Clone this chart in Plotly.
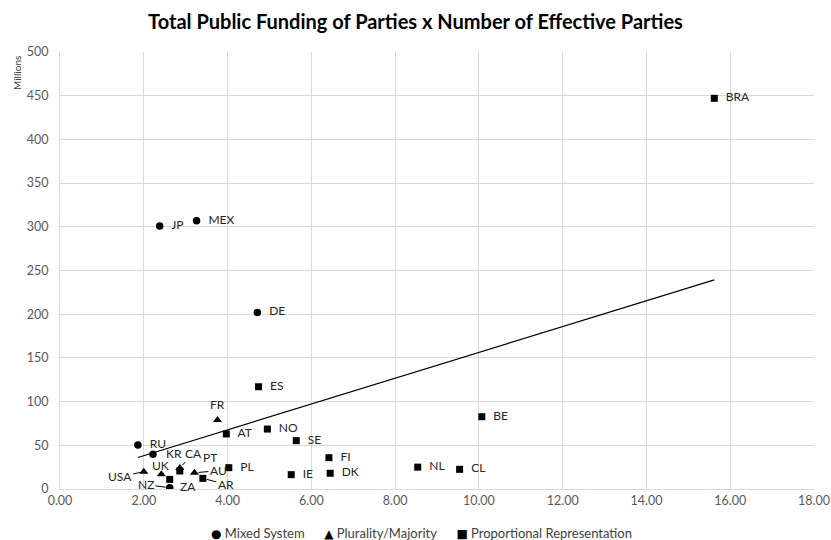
import numpy as np
import plotly.graph_objects as go

# ---- data ----
mixed_labels = ["RU", "KR", "JP", "MEX", "DE", "NZ"]
mixed_x = [1.86, 2.22, 2.38, 3.26, 4.71, 2.62]
mixed_y = [50.3, 39.7, 301, 307, 202, 1.5]

plur_labels = ["USA", "UK", "FR", "CA", "AU"]
plur_x = [2.00, 2.42, 3.76, 2.86, 3.21]
plur_y = [19.8, 16.8, 79, 24, 18.6]

pr_labels = ["BRA", "ES", "AT", "NO", "SE", "FI", "DK", "IE", "PL", "BE", "NL", "CL", "PT", "AR", "ZA"]
pr_x = [15.62, 4.74, 3.97, 4.95, 5.64, 6.42, 6.45, 5.52, 4.03, 10.07, 8.54, 9.54, 2.86, 3.41, 2.62]
pr_y = [447, 117, 63, 68.6, 55.3, 35.8, 18, 16.4, 24.4, 82.7, 25, 22.5, 20.6, 12.2, 11]

x_ticks = [0, 2, 4, 6, 8, 10, 12, 14, 16, 18]
y_ticks = [0, 50, 100, 150, 200, 250, 300, 350, 400, 450, 500]

series_names = ["Mixed System", "Plurality/Majority", "Proportional Representation"]
series_glyphs = ["\u25CF", "\u25B2", "\u25A0"]

# labels placed with offsets / leader lines (pixel offsets)
special = {
    "KR": (21, -1, False),
    "USA": (-24, 5, True),
    "UK": (-1, -9, False),
    "FR": (0, -15, False),
    "CA": (14, -15, True),
    "PT": (30, -14, False),
    "AU": (24, -2, True),
    "AR": (23, 6, True),
    "NZ": (-24, -3, True),
    "ZA": (18, 7, False),
}

FONT = "Lato, Carlito, Calibri, sans-serif"
LBL = dict(family=FONT, size=12, color="#262626")
fig = go.Figure()

# trendline (linear OLS over all points)
all_x = np.array(mixed_x + plur_x + pr_x)
all_y = np.array(mixed_y + plur_y + pr_y)
slope, intercept = np.polyfit(all_x, all_y, 1)
tx = np.array([all_x.min(), all_x.max()])
fig.add_trace(go.Scatter(x=tx, y=slope * tx + intercept, mode="lines",
                         line=dict(color="black", width=1.2), showlegend=False,
                         hoverinfo="skip"))

series = [
    (series_names[0], mixed_labels, mixed_x, mixed_y, "circle", 7.5),
    (series_names[1], plur_labels, plur_x, plur_y, "triangle-up", 8),
    (series_names[2], pr_labels, pr_x, pr_y, "square", 7),
]
for name, labels, xs, ys, sym, size in series:
    txt = ["" if l in special else "\u00a0\u00a0" + l for l in labels]
    fig.add_trace(go.Scatter(
        x=xs, y=ys, mode="markers+text", name=name, text=txt,
        textposition="middle right", textfont=LBL,
        marker=dict(symbol=sym, size=size, color="black"),
    ))
    for l, xv, yv in zip(labels, xs, ys):
        if l in special:
            ax, ay, arrow = special[l]
            fig.add_annotation(x=xv, y=yv, text=l, showarrow=True,
                               arrowhead=0, arrowwidth=1,
                               arrowcolor="black" if arrow else "rgba(0,0,0,0)",
                               ax=ax, ay=ay, standoff=4, font=LBL)

fig.update_layout(
    width=831, height=540,
    margin=dict(l=60, r=17, t=52, b=51, autoexpand=False),
    paper_bgcolor="white", plot_bgcolor="white",
    title=dict(text="<b>Total Public Funding of Parties x Number of Effective Parties</b>",
               x=0.5, xanchor="center", y=0.959, yanchor="middle",
               font=dict(family=FONT, size=20, color="black")),
    font=dict(family=FONT, size=12, color="#595959"),
    showlegend=False,
)
fig.update_xaxes(range=[0, 18], tickvals=x_ticks, automargin=False,
                 ticktext=[f"{v:.2f}" for v in x_ticks],
                 showgrid=True, gridcolor="#d9d9d9", gridwidth=1,
                 zeroline=False, showline=True, linecolor="#d9d9d9",
                 ticks="", tickfont=dict(family=FONT, size=12.5, color="#595959"))
fig.update_yaxes(range=[0, 500], tickvals=y_ticks, automargin=False,
                 showgrid=True, gridcolor="#d9d9d9", gridwidth=1,
                 zeroline=False, showline=True, linecolor="#d9d9d9",
                 ticks="", ticklabelstandoff=8,
                 tickfont=dict(family=FONT, size=12.5, color="#595959"))
fig.add_annotation(text="Millions", xref="paper", yref="paper", x=-0.057, y=0.952,
                   xanchor="center", yanchor="middle", textangle=-90, showarrow=False,
                   font=dict(family=FONT, size=10, color="#404040"))

# legend drawn as text below the plot
legend_text = "\u2003\u2003".join(
    f"<span style='font-family:DejaVu Sans;font-size:12px;color:black'>{g}</span> {n}"
    for g, n in zip(series_glyphs, series_names))
fig.add_annotation(text=legend_text, xref="paper", yref="paper", x=0.48, y=-0.1,
                   xanchor="center", yanchor="middle", showarrow=False,
                   font=dict(family=FONT, size=13, color="#404040"))

fig.write_html("out.html", config={"displayModeBar": False},
               post_script="document.body.style.margin='0';document.body.style.overflow='hidden';")
